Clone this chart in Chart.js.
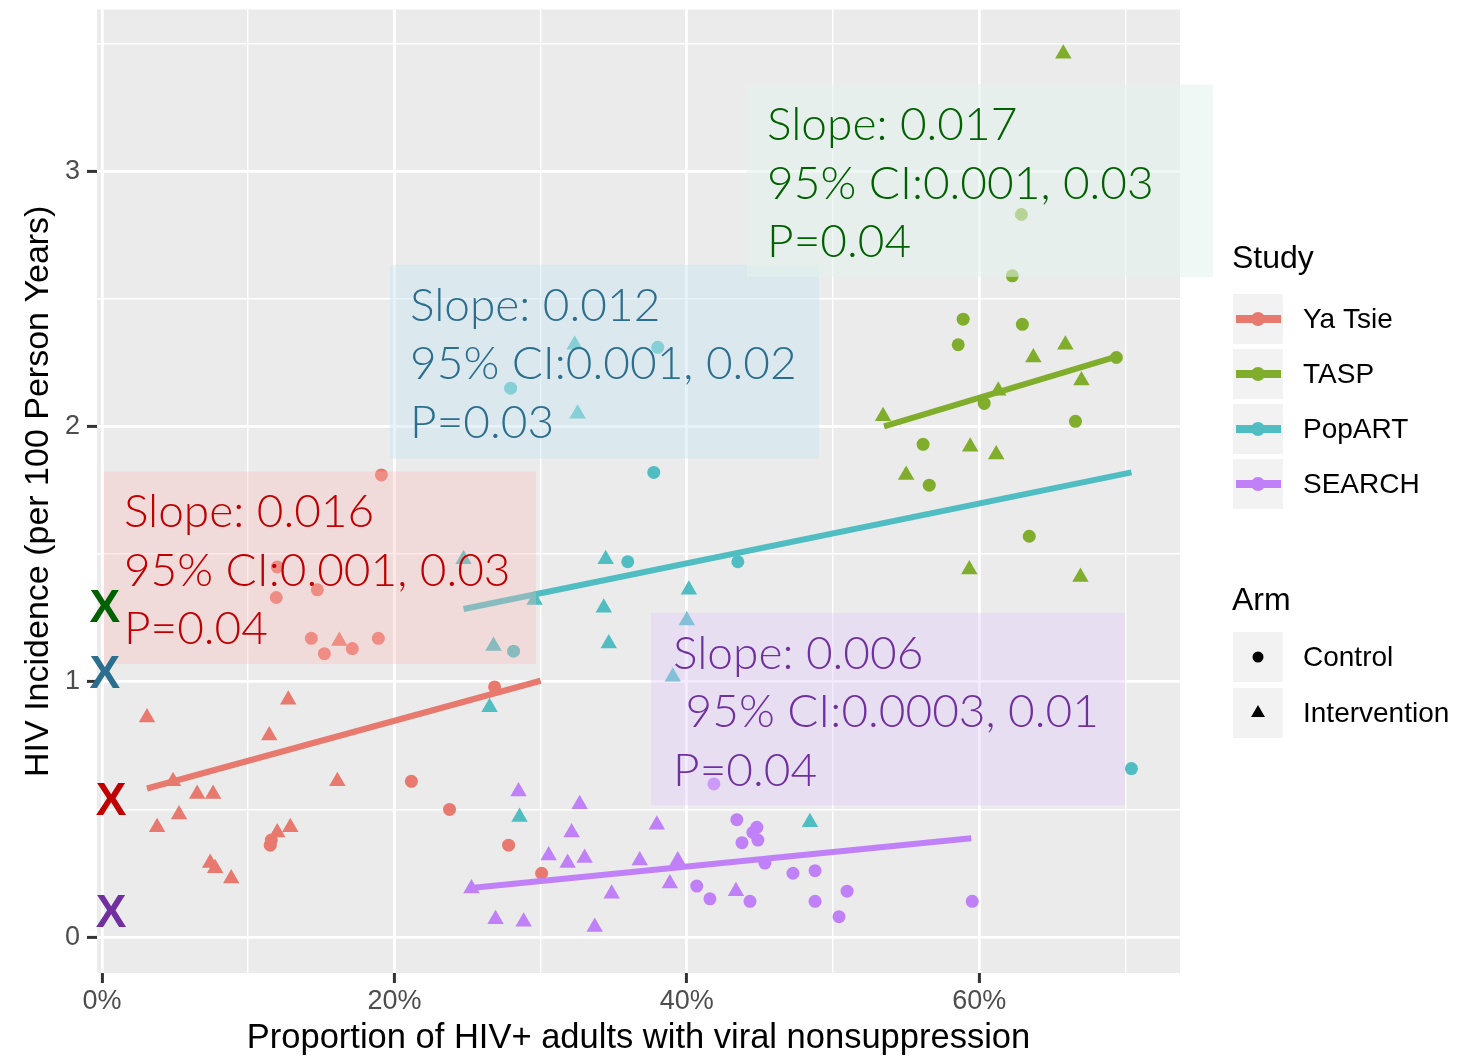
<!DOCTYPE html>
<html>
<head>
<meta charset="utf-8">
<script src="https://cdn.jsdelivr.net/npm/chart.js@4/dist/chart.umd.min.js"></script>
<style>
html,body{margin:0;padding:0;background:#ffffff;}
#wrap{width:1466px;height:1056px;position:relative;}
</style>
</head>
<body>
<div id="wrap"><canvas id="c" width="1466" height="1056"></canvas></div>
<script>
// ---------------- DATA ----------------
const studies = ['Ya Tsie', 'TASP', 'PopART', 'SEARCH'];
const arms = ['Control', 'Intervention'];

// x = % of HIV+ adults with viral nonsuppression, y = HIV incidence per 100 person-years
const yaTsieControlX = [19.11, 11.99, 11.92, 14.73, 14.32, 15.21, 17.12, 18.90, 26.85, 21.16, 23.77, 27.81, 30.07, 11.51, 11.58];
const yaTsieControlY = [1.81, 1.45, 1.33, 1.36, 1.17, 1.11, 1.13, 1.17, 0.98, 0.61, 0.50, 0.36, 0.25, 0.36, 0.38];
const yaTsieInterventionX = [3.08, 12.74, 11.44, 16.23, 4.86, 6.51, 7.60, 16.10, 5.27, 3.77, 11.99, 12.88, 7.40, 7.74, 8.84];
const yaTsieInterventionY = [0.86, 0.93, 0.79, 1.16, 0.61, 0.56, 0.56, 0.61, 0.48, 0.43, 0.41, 0.43, 0.29, 0.27, 0.23];

const taspControlX = [62.88, 62.26, 58.90, 58.56, 62.95, 69.38, 60.34, 66.58, 56.16, 56.58, 63.42];
const taspControlY = [2.83, 2.59, 2.42, 2.32, 2.40, 2.27, 2.09, 2.02, 1.93, 1.77, 1.57];
const taspInterventionX = [65.75, 65.89, 63.70, 66.99, 61.30, 53.42, 59.38, 61.16, 55.00, 59.32, 66.92];
const taspInterventionY = [3.46, 2.32, 2.27, 2.18, 2.14, 2.04, 1.92, 1.89, 1.81, 1.44, 1.41];

const popartControlX = [27.95, 38.01, 37.74, 35.96, 43.49, 28.15, 70.41];
const popartControlY = [2.15, 2.31, 1.82, 1.47, 1.47, 1.12, 0.66];
const popartInterventionX = [32.33, 32.53, 24.73, 34.45, 29.59, 40.14, 34.32, 40.00, 26.78, 34.66, 26.51, 39.04, 28.56, 48.42];
const popartInterventionY = [2.32, 2.05, 1.48, 1.48, 1.32, 1.36, 1.29, 1.24, 1.14, 1.15, 0.90, 1.02, 0.47, 0.45];

const searchControlX = [41.85, 43.42, 44.79, 44.52, 44.86, 43.77, 45.34, 47.26, 48.77, 40.68, 41.58, 44.32, 48.77, 50.96, 50.41, 59.52];
const searchControlY = [0.60, 0.46, 0.43, 0.41, 0.38, 0.37, 0.29, 0.25, 0.26, 0.20, 0.15, 0.14, 0.14, 0.18, 0.08, 0.14];
const searchInterventionX = [28.49, 32.67, 32.12, 30.55, 31.85, 33.01, 37.95, 36.78, 39.38, 38.84, 34.86, 43.36, 26.92, 28.84, 33.70, 25.27];
const searchInterventionY = [0.57, 0.52, 0.41, 0.32, 0.29, 0.31, 0.44, 0.30, 0.30, 0.21, 0.17, 0.18, 0.07, 0.06, 0.04, 0.19];

// fitted regression line endpoints
const yaTsieFitX = [3.08, 30.0];
const yaTsieFitY = [0.582, 1.004];
const taspFitX = [53.49, 69.38];
const taspFitY = [2.0, 2.273];
const popartFitX = [24.73, 70.41];
const popartFitY = [1.285, 1.820];
const searchFitX = [25.07, 59.45];
const searchFitY = [0.191, 0.387];

// annotation texts
const yaTsieStats = ['Slope: 0.016', '95% CI:0.001, 0.03', 'P=0.04'];
const popartStats = ['Slope: 0.012', '95% CI:0.001, 0.02', 'P=0.03'];
const taspStats = ['Slope: 0.017', '95% CI:0.001, 0.03', 'P=0.04'];
const searchStats = ['Slope: 0.006', ' 95% CI:0.0003, 0.01', 'P=0.04'];

// "X" markers near the y axis (incidence values)
const markerStudies = ['TASP', 'PopART', 'Ya Tsie', 'SEARCH'];
const markerX = [0.2, 0.2, 0.62, 0.62];
const markerY = [1.285, 1.027, 0.527, 0.090];

// axis ticks
const xTickValues = [0, 10, 20, 30, 40, 50, 60, 70];
const xTickLabels = ['0%', '', '20%', '', '40%', '', '60%', ''];
const yTickValues = [0, 0.5, 1, 1.5, 2, 2.5, 3, 3.5];
const yTickLabels = ['0', '', '1', '', '2', '', '3', ''];

// ---------------- STYLE / LAYOUT ----------------
const studyColors = { 'Ya Tsie': '#E8796E', 'TASP': '#80AD2B', 'PopART': '#4FBDC2', 'SEARCH': '#C080F8' };
const textColors = { 'Ya Tsie': '#C00000', 'TASP': '#006100', 'PopART': '#2B6E8D', 'SEARCH': '#7030A0' };
const boxFills = {
  'Ya Tsie': 'rgba(255,185,185,0.32)',
  'PopART': 'rgba(200,228,242,0.45)',
  'TASP': 'rgba(228,242,236,0.55)',
  'SEARCH': 'rgba(228,200,255,0.36)'
};
// annotation boxes in data units [xLeft, xRight, yTop, yBottom], text anchor [x, first baseline y]
const annotationLayout = {
  'Ya Tsie': { box: [0.14, 29.69, 1.824, 1.070], text: [1.50, 1.605], lines: yaTsieStats },
  'PopART': { box: [19.70, 49.04, 2.633, 1.875], text: [21.07, 2.414], lines: popartStats },
  'TASP': { box: [44.12, 75.99, 3.340, 2.586], text: [45.49, 3.121], lines: taspStats },
  'SEARCH': { box: [37.55, 69.97, 1.270, 0.516], text: [39.06, 1.051], lines: searchStats }
};
const annotationOrder = ['Ya Tsie', 'PopART', 'TASP', 'SEARCH'];

const xMin = -0.34, xMax = 73.73, yMin = -0.1406, yMax = 3.633;
const axisFont = 'Liberation Sans, Arial, sans-serif';

const fitX = { 'Ya Tsie': yaTsieFitX, 'TASP': taspFitX, 'PopART': popartFitX, 'SEARCH': searchFitX };
const fitY = { 'Ya Tsie': yaTsieFitY, 'TASP': taspFitY, 'PopART': popartFitY, 'SEARCH': searchFitY };
const ctrlX = { 'Ya Tsie': yaTsieControlX, 'TASP': taspControlX, 'PopART': popartControlX, 'SEARCH': searchControlX };
const ctrlY = { 'Ya Tsie': yaTsieControlY, 'TASP': taspControlY, 'PopART': popartControlY, 'SEARCH': searchControlY };
const intX = { 'Ya Tsie': yaTsieInterventionX, 'TASP': taspInterventionX, 'PopART': popartInterventionX, 'SEARCH': searchInterventionX };
const intY = { 'Ya Tsie': yaTsieInterventionY, 'TASP': taspInterventionY, 'PopART': popartInterventionY, 'SEARCH': searchInterventionY };

const toXY = (xs, ys) => xs.map((x, i) => ({ x: x, y: ys[i] }));

const datasets = [];
studies.forEach(s => {
  datasets.push({
    label: s + ' fit', type: 'line', data: toXY(fitX[s], fitY[s]),
    borderColor: studyColors[s], borderWidth: 6, pointRadius: 0, showLine: true,
    fill: false, tension: 0, order: 0, borderCapStyle: 'butt'
  });
});
studies.forEach(s => {
  datasets.push({
    label: s + ' ' + arms[0], type: 'scatter', data: toXY(ctrlX[s], ctrlY[s]),
    pointStyle: 'circle', pointRadius: 6.5, backgroundColor: studyColors[s],
    borderWidth: 0, order: 1
  });
  datasets.push({
    label: s + ' ' + arms[1], type: 'scatter', data: toXY(intX[s], intY[s]),
    pointStyle: 'triangle', pointRadius: 9.5, backgroundColor: studyColors[s],
    borderWidth: 0, order: 1
  });
});

const isMajorX = v => { const i = xTickValues.indexOf(v); return i >= 0 && xTickLabels[i] !== ''; };
const isMajorY = v => { const i = yTickValues.indexOf(v); return i >= 0 && yTickLabels[i] !== ''; };

const overlayPlugin = {
  id: 'overlay',
  beforeDraw(chart) {
    const { ctx, chartArea: a } = chart;
    ctx.save();
    ctx.fillStyle = '#EBEBEB';
    ctx.fillRect(a.left, a.top, a.right - a.left, a.bottom - a.top);
    ctx.restore();
  },
  afterDatasetsDraw(chart) {
    const { ctx } = chart;
    const xs = chart.scales.x, ys = chart.scales.y;
    ctx.save();
    // translucent annotation boxes
    annotationOrder.forEach(s => {
      const L = annotationLayout[s];
      const x0 = xs.getPixelForValue(L.box[0]), x1 = xs.getPixelForValue(L.box[1]);
      const y0 = ys.getPixelForValue(L.box[2]), y1 = ys.getPixelForValue(L.box[3]);
      ctx.fillStyle = boxFills[s];
      ctx.fillRect(x0, y0, x1 - x0, y1 - y0);
    });
    // annotation texts
    ctx.font = '300 46px Lato, "Open Sans", sans-serif';
    ctx.textAlign = 'left';
    ctx.textBaseline = 'alphabetic';
    annotationOrder.forEach(s => {
      const L = annotationLayout[s];
      const tx = xs.getPixelForValue(L.text[0]);
      const ty = ys.getPixelForValue(L.text[1]);
      ctx.fillStyle = textColors[s];
      L.lines.forEach((line, i) => ctx.fillText(line, tx, ty + i * 58.5));
    });
    // X markers
    ctx.font = 'bold 46px "Liberation Sans", Arial, sans-serif';
    ctx.textAlign = 'center';
    ctx.textBaseline = 'middle';
    markerStudies.forEach((s, i) => {
      ctx.fillStyle = textColors[s];
      ctx.fillText('X', xs.getPixelForValue(markerX[i]), ys.getPixelForValue(markerY[i]));
    });
    ctx.restore();
  },
  afterDraw(chart) {
    const { ctx } = chart;
    ctx.save();
    const kx = 1233, ks = 50;
    ctx.fillStyle = '#000000';
    ctx.textAlign = 'left';
    ctx.textBaseline = 'alphabetic';
    ctx.font = '32px ' + axisFont;
    ctx.fillText('Study', 1232, 268);
    ctx.fillText('Arm', 1232, 610);
    ctx.font = '28px ' + axisFont;
    ctx.textBaseline = 'middle';
    studies.forEach((s, i) => {
      const top = 294 + i * 55;
      ctx.fillStyle = '#F2F2F2';
      ctx.fillRect(kx, top, ks, ks);
      const cy = top + ks / 2;
      ctx.strokeStyle = studyColors[s];
      ctx.lineWidth = 8;
      ctx.beginPath();
      ctx.moveTo(kx + 3, cy);
      ctx.lineTo(kx + ks - 2, cy);
      ctx.stroke();
      ctx.fillStyle = studyColors[s];
      ctx.beginPath();
      ctx.arc(kx + ks / 2, cy, 7, 0, Math.PI * 2);
      ctx.fill();
      ctx.fillStyle = '#000000';
      ctx.fillText(s, 1303, cy + 1);
    });
    arms.forEach((a, i) => {
      const top = 632 + i * 56;
      ctx.fillStyle = '#F2F2F2';
      ctx.fillRect(kx, top, ks, ks);
      const cx = kx + ks / 2, cy = top + ks / 2;
      ctx.fillStyle = '#000000';
      if (i === 0) {
        ctx.beginPath();
        ctx.arc(cx, cy, 5.5, 0, Math.PI * 2);
        ctx.fill();
      } else {
        const r = 8;
        ctx.beginPath();
        ctx.moveTo(cx, cy - r);
        ctx.lineTo(cx + r * 0.866, cy + r / 2);
        ctx.lineTo(cx - r * 0.866, cy + r / 2);
        ctx.closePath();
        ctx.fill();
      }
      ctx.fillText(a, 1303, cy + 1);
    });
    ctx.restore();
  }
};

new Chart(document.getElementById('c'), {
  type: 'scatter',
  data: { datasets: datasets },
  plugins: [overlayPlugin],
  options: {
    responsive: false,
    animation: false,
    devicePixelRatio: 1,
    layout: { padding: { left: 0, top: 7, right: 286, bottom: 0 } },
    plugins: { legend: { display: false }, tooltip: { enabled: false } },
    scales: {
      x: {
        type: 'linear', min: xMin, max: xMax,
        afterFit(s) { s.height = 83; s.paddingLeft = 0; s.paddingRight = 0; },
        afterBuildTicks(s) { s.ticks = xTickValues.map(v => ({ value: v })); },
        ticks: {
          autoSkip: false, maxRotation: 0, minRotation: 0, padding: 2,
          color: '#4D4D4D', font: { family: axisFont, size: 27 },
          callback: (v) => { const i = xTickValues.indexOf(v); return i >= 0 ? xTickLabels[i] : ''; }
        },
        grid: {
          color: '#FFFFFF',
          lineWidth: c => (c.tick && isMajorX(c.tick.value)) ? 2.8 : 1.4,
          tickColor: c => (c.tick && isMajorX(c.tick.value)) ? '#333333' : 'rgba(0,0,0,0)',
          tickWidth: 3, tickLength: 10, drawTicks: true
        },
        border: { display: false },
        title: {
          display: true, text: 'Proportion of HIV+ adults with viral nonsuppression',
          color: '#000000', font: { family: axisFont, size: 34.5 }, padding: { top: 0, bottom: -3 }
        }
      },
      y: {
        type: 'linear', min: yMin, max: yMax,
        afterFit(s) { s.width = 97; s.paddingTop = 0; s.paddingBottom = 0; },
        afterBuildTicks(s) { s.ticks = yTickValues.map(v => ({ value: v })); },
        ticks: {
          autoSkip: false, padding: 7,
          color: '#4D4D4D', font: { family: axisFont, size: 27 },
          callback: (v) => { const i = yTickValues.indexOf(v); return i >= 0 ? yTickLabels[i] : ''; }
        },
        grid: {
          color: '#FFFFFF',
          lineWidth: c => (c.tick && isMajorY(c.tick.value)) ? 2.8 : 1.4,
          tickColor: c => (c.tick && isMajorY(c.tick.value)) ? '#333333' : 'rgba(0,0,0,0)',
          tickWidth: 3, tickLength: 10, drawTicks: true
        },
        border: { display: false },
        title: {
          display: true, text: 'HIV Incidence (per 100 Person Years)',
          color: '#000000', font: { family: axisFont, size: 34 }, padding: { top: 18, bottom: 0 }
        }
      }
    }
  }
});
</script>
</body>
</html>
